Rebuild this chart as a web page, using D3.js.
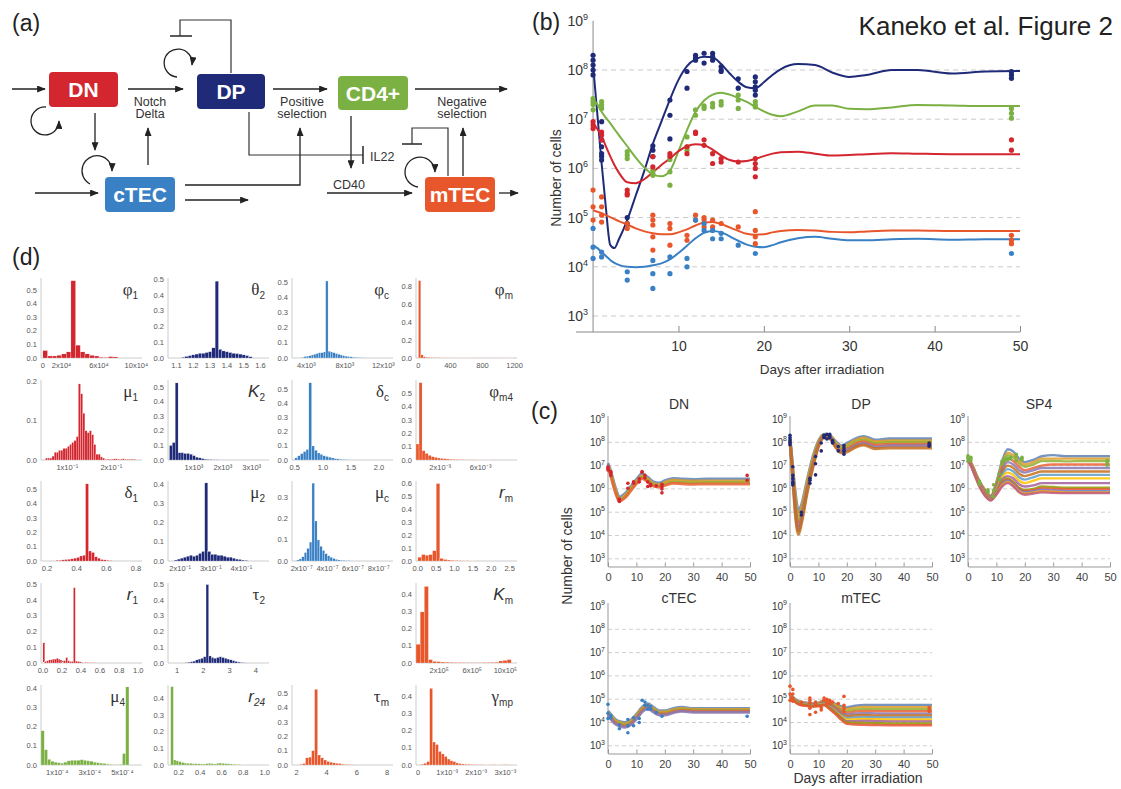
<!DOCTYPE html>
<html>
<head>
<meta charset="utf-8">
<script src="https://cdn.jsdelivr.net/npm/d3@7"></script>
<style>
  body { margin: 0; background: #fff; }
  svg { display: block; font-family: "Liberation Sans", Arial, sans-serif; }
</style>
</head>
<body>
<svg id="figura" width="1121" height="789"></svg>
<script>
// ---------- datos panel (b): curvas del modelo (log10 del número de células)
const diasB = [0, 0.5, 1, 1.5, 2, 2.5, 3, 4, 5, 6, 7, 8, 9, 10, 11, 12, 13, 14, 15, 16, 17, 18, 19, 20, 21, 22, 24, 26, 28, 30, 32, 35, 38, 42, 46, 50];
const curvaDP = [8.1, 7.1, 6.1, 5.2, 4.45, 4.38, 4.55, 4.95, 5.45, 5.95, 6.5, 6.95, 7.4, 7.8, 8.08, 8.22, 8.27, 8.26, 8.12, 7.93, 7.76, 7.65, 7.63, 7.75, 7.9, 8.02, 8.12, 8.1, 7.95, 7.86, 7.9, 8.0, 8.0, 7.93, 7.97, 7.98];
const curvaCD4 = [7.4, 7.3, 7.15, 7.03, 6.92, 6.8, 6.68, 6.45, 6.22, 6.02, 5.88, 5.84, 5.95, 6.35, 6.78, 7.15, 7.38, 7.5, 7.54, 7.5, 7.43, 7.35, 7.25, 7.16, 7.09, 7.06, 7.16, 7.28, 7.28, 7.21, 7.2, 7.24, 7.29, 7.28, 7.27, 7.27];
const curvaDN = [6.92, 6.8, 6.65, 6.45, 6.25, 6.07, 5.92, 5.72, 5.7, 5.78, 5.92, 6.07, 6.2, 6.35, 6.45, 6.49, 6.47, 6.38, 6.26, 6.17, 6.14, 6.15, 6.19, 6.25, 6.3, 6.33, 6.34, 6.3, 6.26, 6.27, 6.29, 6.31, 6.3, 6.29, 6.29, 6.29];
const curvaMTEC = [5.15, 5.12, 5.09, 5.05, 5.01, 4.97, 4.93, 4.86, 4.78, 4.72, 4.68, 4.66, 4.66, 4.7, 4.76, 4.84, 4.9, 4.91, 4.87, 4.8, 4.73, 4.67, 4.65, 4.66, 4.7, 4.73, 4.75, 4.74, 4.71, 4.7, 4.72, 4.74, 4.74, 4.73, 4.73, 4.73];
const curvaCTEC = [4.44, 4.38, 4.3, 4.22, 4.14, 4.08, 4.04, 4.0, 3.99, 4.0, 4.03, 4.07, 4.15, 4.28, 4.43, 4.58, 4.69, 4.73, 4.7, 4.62, 4.53, 4.45, 4.41, 4.4, 4.44, 4.5, 4.58, 4.61, 4.57, 4.54, 4.54, 4.56, 4.57, 4.55, 4.56, 4.56];

// mediciones [día, log10]
const puntosDP = [[0,8.3],[0,8.2],[0,8.1],[0,8.0],[0,7.9],[1,6.95],[1,6.58],[1,6.44],[1,6.3],[1,6.24],[1,6.17],[4,5.0],[4,4.88],[7,6.46],[7,6.37],[7,6.24],[9,7.39],[9,7.08],[9,6.6],[11,7.97],[11,7.63],[12,8.3],[12,8.24],[12,8.2],[13,8.34],[13,8.14],[14,8.34],[14,8.27],[14,8.2],[15,8.07],[15,8.0],[15,7.97],[17,7.82],[17,7.63],[19,7.86],[19,7.76],[19,7.66],[19,7.59],[19,7.49],[49,7.97],[49,7.9],[49,7.83]];
const puntosCD4 = [[0,7.42],[0,7.36],[0,7.3],[0,7.19],[1,7.36],[1,7.29],[1,7.22],[4,6.34],[4,6.27],[4,6.2],[7,5.96],[7,5.9],[7,5.86],[9,6.18],[9,5.93],[9,5.66],[11,6.64],[11,6.44],[11,6.37],[12,7.19],[12,7.08],[13,7.27],[13,7.22],[14,7.32],[14,7.25],[15,7.36],[15,7.29],[17,7.49],[17,7.39],[17,7.22],[19,7.36],[19,7.29],[19,7.25],[49,7.22],[49,7.12],[49,7.02]];
const puntosDN = [[0,6.95],[0,6.88],[0,6.81],[1,6.74],[1,6.68],[1,6.58],[4,5.56],[4,5.49],[4,5.46],[7,6.24],[7,6.03],[9,6.3],[9,6.24],[11,6.44],[11,6.3],[12,6.74],[12,6.71],[13,6.58],[13,6.47],[14,6.3],[14,6.1],[15,6.2],[15,6.13],[17,6.13],[19,6.2],[19,6.1],[19,6.0],[19,5.83],[49,6.58],[49,6.37]];
const puntosMTEC = [[0,5.56],[0,5.22],[0,4.95],[1,5.42],[1,5.22],[1,5.05],[1,4.91],[4,4.88],[4,4.78],[7,5.05],[7,4.95],[7,4.85],[7,4.61],[7,4.34],[9,4.88],[9,4.78],[9,4.44],[11,4.64],[11,4.54],[12,5.05],[12,4.95],[13,5.0],[13,4.95],[13,4.81],[14,4.95],[14,4.81],[15,4.88],[17,4.81],[19,5.12],[19,4.74],[19,4.61],[19,4.47],[49,4.64],[49,4.54],[49,4.47]];
const puntosCTEC = [[0,4.78],[0,4.4],[0,4.17],[1,4.3],[1,4.2],[4,3.9],[4,3.73],[7,4.13],[7,3.86],[7,3.56],[9,4.2],[9,3.86],[11,4.17],[11,4.0],[12,4.95],[13,4.88],[13,4.74],[14,4.74],[14,4.57],[15,4.68],[15,4.57],[17,4.44],[19,4.27],[49,4.27]];

// ---------- datos panel (c): trayectorias del ensamble
const diasC = [0, 1, 2, 3, 4, 6, 8, 10, 12, 14, 16, 18, 20, 23, 26, 30, 35, 40, 45, 50];
const corridasDN = [
  [7.1, 6.75, 6.3, 5.9, 5.65, 5.8, 6.1, 6.4, 6.65, 6.5, 6.3, 6.25, 6.35, 6.45, 6.42, 6.4, 6.42, 6.42, 6.42, 6.42],
  [7.0, 6.65, 6.2, 5.8, 5.55, 5.72, 6.02, 6.32, 6.55, 6.42, 6.22, 6.18, 6.28, 6.38, 6.35, 6.33, 6.34, 6.34, 6.34, 6.34],
  [6.95, 6.6, 6.15, 5.75, 5.5, 5.66, 5.97, 6.27, 6.5, 6.36, 6.17, 6.12, 6.2, 6.3, 6.28, 6.26, 6.27, 6.27, 6.27, 6.27],
  [6.9, 6.55, 6.1, 5.72, 5.48, 5.62, 5.92, 6.22, 6.45, 6.3, 6.12, 6.08, 6.15, 6.24, 6.22, 6.2, 6.21, 6.21, 6.21, 6.21]
];
const corridasDP = [
  [8.2, 6.9, 5.7, 5.05, 5.3, 6.35, 7.35, 8.05, 8.35, 8.3, 8.05, 7.85, 7.95, 8.15, 8.25, 8.1, 8.15, 8.15, 8.15, 8.15],
  [8.15, 6.8, 5.5, 4.85, 5.15, 6.25, 7.25, 8.0, 8.32, 8.28, 8.0, 7.8, 7.88, 8.08, 8.18, 8.03, 8.07, 8.07, 8.07, 8.07],
  [8.1, 6.7, 5.3, 4.6, 4.95, 6.1, 7.15, 7.95, 8.3, 8.25, 7.95, 7.72, 7.8, 8.0, 8.1, 7.95, 8.0, 8.0, 8.0, 8.0],
  [8.1, 6.6, 5.1, 4.4, 4.8, 6.0, 7.05, 7.9, 8.28, 8.22, 7.9, 7.66, 7.72, 7.92, 8.02, 7.88, 7.92, 7.92, 7.92, 7.92],
  [8.05, 6.5, 4.9, 4.2, 4.65, 5.9, 6.95, 7.85, 8.25, 8.2, 7.85, 7.6, 7.65, 7.85, 7.95, 7.8, 7.85, 7.85, 7.85, 7.85],
  [8.05, 6.4, 4.75, 4.05, 4.5, 5.8, 6.9, 7.8, 8.22, 8.15, 7.8, 7.55, 7.58, 7.78, 7.88, 7.72, 7.76, 7.76, 7.76, 7.76]
];
const corridasSP4 = [
  [7.35, 7.15, 6.9, 6.6, 6.35, 5.95, 5.7, 6.3, 7.2, 7.7, 7.6, 7.3, 7.15, 7.25, 7.4, 7.45, 7.4, 7.4, 7.4, 7.4],
  [7.35, 7.15, 6.9, 6.6, 6.35, 5.95, 5.7, 6.25, 7.1, 7.55, 7.45, 7.2, 7.05, 7.15, 7.3, 7.3, 7.3, 7.3, 7.3, 7.3],
  [7.3, 7.1, 6.85, 6.55, 6.3, 5.9, 5.68, 6.2, 7.0, 7.45, 7.35, 7.1, 6.95, 7.05, 7.2, 7.2, 7.18, 7.2, 7.2, 7.2],
  [7.3, 7.1, 6.85, 6.55, 6.3, 5.9, 5.65, 6.15, 6.9, 7.3, 7.2, 6.95, 6.8, 6.9, 7.0, 7.05, 7.05, 7.05, 7.05, 7.05],
  [7.3, 7.1, 6.85, 6.55, 6.28, 5.88, 5.65, 6.1, 6.8, 7.15, 7.05, 6.8, 6.7, 6.8, 6.9, 6.9, 6.9, 6.9, 6.9, 6.9],
  [7.3, 7.1, 6.82, 6.52, 6.25, 5.85, 5.62, 6.05, 6.7, 7.0, 6.9, 6.65, 6.55, 6.65, 6.75, 6.75, 6.75, 6.75, 6.75, 6.75],
  [7.28, 7.08, 6.8, 6.5, 6.25, 5.85, 5.62, 6.0, 6.6, 6.85, 6.75, 6.5, 6.4, 6.5, 6.6, 6.6, 6.6, 6.6, 6.6, 6.6],
  [7.28, 7.08, 6.8, 6.5, 6.22, 5.82, 5.6, 5.95, 6.5, 6.7, 6.6, 6.35, 6.25, 6.35, 6.45, 6.45, 6.45, 6.45, 6.45, 6.45],
  [7.25, 7.05, 6.78, 6.48, 6.2, 5.8, 5.58, 5.9, 6.4, 6.55, 6.45, 6.2, 6.1, 6.15, 6.25, 6.25, 6.25, 6.25, 6.25, 6.25],
  [7.25, 7.05, 6.78, 6.48, 6.2, 5.8, 5.58, 5.85, 6.3, 6.45, 6.3, 6.05, 5.95, 6.0, 6.1, 6.08, 6.05, 6.05, 6.05, 6.05],
  [7.25, 7.05, 6.75, 6.45, 6.18, 5.78, 5.55, 5.82, 6.25, 6.4, 6.25, 6.0, 5.9, 5.95, 6.02, 6.0, 5.98, 5.98, 5.98, 5.98],
  [7.22, 7.02, 6.72, 6.42, 6.15, 5.75, 5.55, 5.8, 6.2, 6.35, 6.2, 5.95, 5.85, 5.9, 5.96, 5.93, 5.9, 5.9, 5.9, 5.9],
  [7.22, 7.0, 6.7, 6.4, 6.12, 5.72, 5.52, 5.78, 6.15, 6.3, 6.15, 5.9, 5.8, 5.85, 5.9, 5.88, 5.85, 5.85, 5.85, 5.85],
  [7.2, 7.0, 6.7, 6.4, 6.1, 5.7, 5.5, 5.75, 6.1, 6.25, 6.1, 5.85, 5.75, 5.8, 5.85, 5.83, 5.82, 5.82, 5.82, 5.82]
];
const corridasCTEC = [
  [4.5, 4.35, 4.2, 4.1, 4.05, 4.0, 4.1, 4.35, 4.65, 4.8, 4.65, 4.5, 4.5, 4.6, 4.65, 4.6, 4.6, 4.6, 4.6, 4.6],
  [4.45, 4.3, 4.15, 4.05, 4.0, 3.95, 4.05, 4.3, 4.6, 4.75, 4.6, 4.45, 4.45, 4.55, 4.6, 4.56, 4.56, 4.56, 4.56, 4.56],
  [4.4, 4.25, 4.1, 4.0, 3.95, 3.9, 4.0, 4.25, 4.55, 4.7, 4.55, 4.4, 4.4, 4.5, 4.56, 4.52, 4.52, 4.52, 4.52, 4.52],
  [4.35, 4.2, 4.05, 3.95, 3.9, 3.85, 3.95, 4.2, 4.5, 4.65, 4.5, 4.36, 4.36, 4.46, 4.52, 4.48, 4.48, 4.48, 4.48, 4.48],
  [4.3, 4.15, 4.0, 3.9, 3.85, 3.8, 3.9, 4.15, 4.45, 4.6, 4.45, 4.32, 4.32, 4.42, 4.48, 4.44, 4.44, 4.44, 4.44, 4.44]
];
const corridasMTEC = [
  [5.25, 5.1, 5.0, 4.92, 4.88, 4.85, 4.82, 4.85, 4.95, 4.9, 4.8, 4.7, 4.65, 4.72, 4.75, 4.75, 4.75, 4.75, 4.75, 4.75],
  [5.22, 5.08, 4.98, 4.9, 4.86, 4.83, 4.8, 4.83, 4.92, 4.87, 4.75, 4.63, 4.58, 4.64, 4.67, 4.66, 4.66, 4.66, 4.66, 4.66],
  [5.2, 5.06, 4.96, 4.88, 4.84, 4.81, 4.78, 4.81, 4.9, 4.84, 4.7, 4.56, 4.5, 4.55, 4.58, 4.57, 4.57, 4.57, 4.57, 4.57],
  [5.2, 5.05, 4.95, 4.87, 4.83, 4.8, 4.77, 4.8, 4.88, 4.8, 4.65, 4.5, 4.42, 4.47, 4.5, 4.49, 4.48, 4.48, 4.48, 4.48],
  [5.18, 5.04, 4.94, 4.86, 4.82, 4.79, 4.76, 4.79, 4.86, 4.77, 4.6, 4.44, 4.35, 4.38, 4.4, 4.39, 4.38, 4.38, 4.38, 4.38],
  [5.18, 5.03, 4.93, 4.85, 4.81, 4.78, 4.75, 4.78, 4.84, 4.74, 4.56, 4.38, 4.28, 4.3, 4.32, 4.3, 4.3, 4.3, 4.3, 4.3],
  [5.16, 5.02, 4.92, 4.84, 4.8, 4.77, 4.74, 4.77, 4.82, 4.7, 4.52, 4.32, 4.2, 4.22, 4.23, 4.22, 4.22, 4.22, 4.22, 4.22],
  [5.15, 5.0, 4.9, 4.82, 4.78, 4.75, 4.72, 4.75, 4.8, 4.67, 4.48, 4.27, 4.13, 4.14, 4.15, 4.14, 4.13, 4.13, 4.13, 4.13],
  [5.14, 4.99, 4.89, 4.81, 4.77, 4.74, 4.71, 4.74, 4.78, 4.64, 4.44, 4.22, 4.06, 4.06, 4.07, 4.06, 4.05, 4.05, 4.05, 4.05],
  [5.12, 4.98, 4.88, 4.8, 4.76, 4.73, 4.7, 4.72, 4.76, 4.6, 4.4, 4.17, 4.0, 3.98, 3.98, 3.97, 3.96, 3.96, 3.96, 3.96],
  [5.1, 4.96, 4.86, 4.78, 4.74, 4.71, 4.68, 4.7, 4.74, 4.57, 4.36, 4.12, 3.94, 3.91, 3.9, 3.89, 3.88, 3.88, 3.88, 3.88]
];

// ---------- datos panel (d): histogramas (frecuencia por clase)
const hPhi1 = [0.055, 0.015, 0.015, 0.02, 0.03, 0.045, 0.57, 0.095, 0.045, 0.03, 0.02, 0.015, 0.006, 0.004, 0.01, 0.008];
const hTheta2 = [0.005, 0.01, 0.015, 0.02, 0.025, 0.03, 0.03, 0.035, 0.04, 0.065, 0.49, 0.055, 0.045, 0.04, 0.035, 0.03, 0.028, 0.025, 0.02, 0.015, 0.008];
const hPhiC = [0.005, 0.01, 0.012, 0.015, 0.02, 0.025, 0.03, 0.035, 0.035, 0.04, 0.51, 0.045, 0.04, 0.035, 0.03, 0.025, 0.02, 0.015, 0.012, 0.01, 0.008, 0.006, 0.005, 0.004, 0.003, 0.002];
const hPhiM = [0.87, 0.035, 0.015, 0.01, 0.008, 0.006, 0.005, 0.004, 0.004, 0.003, 0.003, 0.003, 0.002, 0.002, 0.002, 0.002, 0.002, 0.002, 0.002, 0.002, 0.002, 0.002, 0.001, 0.001, 0.001, 0.001, 0.001, 0.001, 0.001, 0.001, 0.001, 0.001, 0.001, 0.001, 0.001, 0.001, 0.001, 0.001, 0.002, 0.003];
const hMu1 = [0.005, 0.005, 0.005, 0.01, 0.02, 0.02, 0.025, 0.025, 0.03, 0.03, 0.035, 0.04, 0.045, 0.05, 0.06, 0.195, 0.17, 0.12, 0.075, 0.07, 0.075, 0.065, 0.04, 0.015, 0.015, 0.008, 0.005, 0.002, 0.002, 0.002, 0.002, 0.003, 0.003, 0.002, 0.002, 0.003, 0.002, 0.002, 0.002, 0.002, 0.002];
const hK2 = [0.1, 0.12, 0.53, 0.05, 0.05, 0.045, 0.045, 0.04, 0.03, 0.02, 0.015, 0.01, 0.006, 0.004, 0.003, 0.002, 0.002, 0.001, 0.001, 0.001];
const hDeltaC = [0.015, 0.03, 0.045, 0.06, 0.075, 0.55, 0.1, 0.07, 0.05, 0.04, 0.03, 0.025, 0.02, 0.015, 0.01, 0.008, 0.005, 0.004, 0.003, 0.002];
const hPhiM4 = [0.12, 0.58, 0.07, 0.05, 0.035, 0.025, 0.02, 0.015, 0.012, 0.01, 0.008, 0.006, 0.005, 0.004, 0.003, 0.003, 0.002, 0.002, 0.002, 0.002, 0.001, 0.001, 0.001, 0.001, 0.001];
const hDelta1 = [0.005, 0.005, 0.008, 0.01, 0.012, 0.015, 0.02, 0.025, 0.035, 0.04, 0.54, 0.07, 0.06, 0.03, 0.02, 0.01, 0.008, 0.005, 0.003];
const hMu2 = [0.005, 0.01, 0.015, 0.02, 0.025, 0.03, 0.025, 0.03, 0.04, 0.05, 0.41, 0.05, 0.035, 0.035, 0.03, 0.03, 0.025, 0.02, 0.02, 0.015, 0.01, 0.008, 0.005, 0.003];
const hMuC = [0.005, 0.01, 0.02, 0.04, 0.06, 0.09, 0.37, 0.19, 0.1, 0.07, 0.05, 0.035, 0.025, 0.018, 0.012, 0.008, 0.005, 0.004, 0.003, 0.002, 0.002, 0.001];
const hRm = [0.03, 0.05, 0.045, 0.05, 0.08, 0.6, 0.02, 0.012, 0.008, 0.005, 0.004, 0.003, 0.002, 0.002, 0.001, 0.001];
const hR1 = [0.13, 0.01, 0.015, 0.02, 0.02, 0.025, 0.025, 0.03, 0.025, 0.02, 0.015, 0.015, 0.035, 0.015, 0.01, 0.01, 0.48, 0.012, 0.01, 0.008, 0.006, 0.005, 0.004, 0.003, 0.003, 0.002, 0.002, 0.002, 0.001, 0.001];
const hTau2 = [0.003, 0.005, 0.008, 0.012, 0.02, 0.025, 0.03, 0.04, 0.5, 0.045, 0.035, 0.03, 0.035, 0.04, 0.035, 0.03, 0.025, 0.02, 0.015, 0.01, 0.006, 0.004, 0.002];
const hKm = [0.11, 0.3, 0.45, 0.02, 0.01, 0.008, 0.006, 0.005, 0.004, 0.003, 0.003, 0.003, 0.002, 0.002, 0.002, 0.002, 0.003, 0.003, 0.004, 0.005, 0.012, 0.015, 0.02];
const hMu4 = [0.18, 0.08, 0.03, 0.02, 0.015, 0.012, 0.01, 0.015, 0.022, 0.025, 0.025, 0.025, 0.028, 0.025, 0.022, 0.02, 0.015, 0.012, 0.01, 0.008, 0.005, 0.003, 0.002, 0.002, 0.003, 0.06, 0.41];
const hR24 = [0.47, 0.03, 0.025, 0.02, 0.015, 0.012, 0.01, 0.01, 0.008, 0.008, 0.007, 0.006, 0.006, 0.008, 0.01, 0.008, 0.006, 0.01, 0.012, 0.01, 0.008, 0.008, 0.006, 0.005, 0.004, 0.003, 0.002, 0.001];
const hTauM = [0.005, 0.01, 0.05, 0.055, 0.1, 0.53, 0.07, 0.05, 0.035, 0.025, 0.02, 0.015, 0.012, 0.01, 0.006, 0.004, 0.003, 0.002];
const hGammaMP = [0.005, 0.01, 0.02, 0.45, 0.135, 0.12, 0.08, 0.065, 0.05, 0.035, 0.025, 0.02, 0.012, 0.008, 0.006, 0.005, 0.004, 0.003, 0.002, 0.002, 0.002, 0.002, 0.001, 0.001, 0.002, 0.002, 0.001, 0.001, 0.002, 0.002];

const exponentes = [3, 4, 5, 6, 7, 8, 9];
const ticksDias = [10, 20, 30, 40, 50];

// ---------- estilos
const COL = { dn: "#d3262e", dp: "#1f2a78", cd4: "#7bb143", ctec: "#3a80c4", mtec: "#e8562b" };
const PALETA = ["#5e81b5", "#e19c24", "#8fb032", "#eb6235", "#8778b3", "#c56e1a", "#5d9ec7", "#ffbf00", "#a5609d", "#929600", "#e95536", "#6685d9", "#f89f13", "#bc5b80"];
const TXT = "#333";

const svg = d3.select("#figura");
const defs = svg.append("defs");
defs.append("marker")
  .attr("id", "flecha")
  .attr("viewBox", "0 0 10 8")
  .attr("refX", 9).attr("refY", 4)
  .attr("markerWidth", 9).attr("markerHeight", 7)
  .attr("markerUnits", "userSpaceOnUse")
  .attr("orient", "auto")
  .append("path").attr("d", "M0,0 L10,4 L0,8 Z").attr("fill", "#222");

function etiquetaPanel(x, y, t) {
  svg.append("text").attr("x", x).attr("y", y).attr("font-size", 23).attr("fill", "#222").text(t);
}

function potencia(g, x, y, exp, base, sup) {
  const t = g.append("text").attr("x", x).attr("y", y).attr("text-anchor", "end")
    .attr("font-size", base).attr("fill", TXT);
  t.append("tspan").text("10");
  t.append("tspan").attr("font-size", sup).attr("dy", -base * 0.45).text(exp);
}

// =====================================================================
// (a) diagrama
// =====================================================================
etiquetaPanel(12, 31, "(a)");
const gA = svg.append("g");

const cajas = [
  { t: "DN", x: 49, y: 72, w: 69, h: 35, c: COL.dn },
  { t: "DP", x: 197, y: 74, w: 68, h: 35, c: COL.dp },
  { t: "CD4+", x: 338, y: 76, w: 70, h: 34, c: COL.cd4 },
  { t: "cTEC", x: 105, y: 177, w: 70, h: 35, c: COL.ctec },
  { t: "mTEC", x: 425, y: 177, w: 70, h: 35, c: COL.mtec }
];

const flechas = [
  [[12, 89], [45, 89]],
  [[128, 89], [183, 89]],
  [[95, 113], [95, 150]],
  [[148, 165], [148, 128]],
  [[35, 193], [98, 193]],
  [[185, 185], [300, 185], [300, 128]],
  [[185, 200], [248, 200]],
  [[273, 89], [327, 89]],
  [[351, 116], [351, 168]],
  [[327, 193], [412, 193]],
  [[463, 176], [463, 128]],
  [[415, 89], [507, 89]],
  [[499, 193], [518, 193]]
];
const inhibiciones = [
  { p: [[231, 73], [231, 20], [180, 20], [180, 36]], barra: [[170, 36], [192, 36]] },
  { p: [[249, 112], [249, 155], [363, 155]], barra: [[363, 146], [363, 164]] },
  { p: [[448, 176], [448, 128], [412, 128], [412, 144]], barra: [[402, 144], [422, 144]] }
];
const lazos = [
  "M46,107 A14,14 0 1,0 59,121",
  "M90,184 A15,15 0 1,1 112,171",
  "M177,77 A14,14 0 1,1 192,65",
  "M418,187 A15,15 0 1,1 435,172"
];

const linea = d3.line();
gA.selectAll("path.flecha").data(flechas).join("path")
  .attr("class", "flecha")
  .attr("d", d => linea(d))
  .attr("fill", "none").attr("stroke", "#222").attr("stroke-width", 1.3)
  .attr("marker-end", "url(#flecha)");

inhibiciones.forEach(d => {
  gA.append("path").attr("d", linea(d.p)).attr("fill", "none").attr("stroke", "#333").attr("stroke-width", 1.2);
  gA.append("path").attr("d", linea(d.barra)).attr("fill", "none").attr("stroke", "#333").attr("stroke-width", 1.6);
});

gA.selectAll("path.lazo").data(lazos).join("path")
  .attr("class", "lazo")
  .attr("d", d => d)
  .attr("fill", "none").attr("stroke", "#222").attr("stroke-width", 1.3)
  .attr("marker-end", "url(#flecha)");

const gCajas = gA.selectAll("g.caja").data(cajas).join("g").attr("class", "caja");
gCajas.append("rect")
  .attr("x", d => d.x).attr("y", d => d.y).attr("width", d => d.w).attr("height", d => d.h)
  .attr("rx", 4).attr("fill", d => d.c);
gCajas.append("text")
  .attr("x", d => d.x + d.w / 2).attr("y", d => d.y + d.h / 2 + 7.5)
  .attr("text-anchor", "middle").attr("font-size", 21).attr("font-weight", 700)
  .attr("fill", "#fff").text(d => d.t);

const rotulos = [
  { x: 150, y: 106, t: "Notch" }, { x: 150, y: 118, t: "Delta" },
  { x: 302, y: 106, t: "Positive" }, { x: 302, y: 118, t: "selection" },
  { x: 462, y: 106, t: "Negative" }, { x: 462, y: 118, t: "selection" }
];
gA.selectAll("text.rotulo").data(rotulos).join("text")
  .attr("class", "rotulo")
  .attr("x", d => d.x).attr("y", d => d.y).attr("text-anchor", "middle")
  .attr("font-size", 12.5).attr("fill", TXT).text(d => d.t);
gA.append("text").attr("x", 370).attr("y", 161).attr("font-size", 12.5).attr("fill", TXT).text("IL22");
gA.append("text").attr("x", 333).attr("y", 189).attr("font-size", 12.5).attr("fill", TXT).text("CD40");

// =====================================================================
// (b) dinámica principal
// =====================================================================
etiquetaPanel(532, 30, "(b)");
svg.append("text").attr("x", 1113).attr("y", 35).attr("text-anchor", "end")
  .attr("font-size", 26).attr("fill", "#222").text("Kaneko et al. Figure 2");

const gB = svg.append("g");
const xB = d3.scaleLinear().domain([-2, 50]).range([576, 1020]);
const yB = d3.scaleLinear().domain([2.675, 9]).range([332, 20.8]);

gB.selectAll("line.rejilla").data(exponentes.filter(e => e < 9)).join("line")
  .attr("class", "rejilla")
  .attr("x1", xB(0)).attr("x2", xB(50))
  .attr("y1", d => yB(d)).attr("y2", d => yB(d))
  .attr("stroke", "#c9c9c9").attr("stroke-dasharray", "5,4").attr("stroke-width", 1);

gB.append("line").attr("x1", xB(0)).attr("x2", xB(0)).attr("y1", yB(9)).attr("y2", yB.range()[0])
  .attr("stroke", "#888").attr("stroke-width", 1);

exponentes.forEach(e => potencia(gB, xB(0) - 5, yB(e) + 5, e, 14, 9));

const ejeXB = gB.append("g").attr("transform", `translate(0,${yB.range()[0]})`);
ejeXB.call(d3.axisBottom(xB).tickValues(d3.range(0, 51, 2)).tickSize(-3).tickFormat(""));
ejeXB.call(d3.axisBottom(xB).tickValues(ticksDias).tickSize(-6).tickPadding(9).tickFormat(d3.format("d")));
ejeXB.select(".domain").remove();
ejeXB.selectAll(".tick line").attr("stroke", "#888");
ejeXB.selectAll("text").attr("font-size", 14).attr("fill", TXT).attr("font-family", "Liberation Sans, Arial, sans-serif");
gB.append("line").attr("x1", xB(-2)).attr("x2", xB(50)).attr("y1", yB.range()[0]).attr("y2", yB.range()[0])
  .attr("stroke", "#888").attr("stroke-width", 1);

gB.append("text").attr("x", 822).attr("y", 374).attr("text-anchor", "middle")
  .attr("font-size", 13.5).attr("fill", TXT).text("Days after irradiation");
gB.append("text").attr("transform", "translate(561,178) rotate(-90)").attr("text-anchor", "middle")
  .attr("font-size", 14).attr("fill", TXT).text("Number of cells");

const seriesB = [
  { c: COL.dp, v: curvaDP, p: puntosDP },
  { c: COL.cd4, v: curvaCD4, p: puntosCD4 },
  { c: COL.dn, v: curvaDN, p: puntosDN },
  { c: COL.mtec, v: curvaMTEC, p: puntosMTEC },
  { c: COL.ctec, v: curvaCTEC, p: puntosCTEC }
];
const lineaB = d3.line().x(d => xB(d[0])).y(d => yB(d[1])).curve(d3.curveMonotoneX);
seriesB.forEach(s => {
  gB.append("path").datum(diasB.map((d, i) => [d, s.v[i]]))
    .attr("d", lineaB).attr("fill", "none").attr("stroke", s.c).attr("stroke-width", 2);
});
seriesB.forEach(s => {
  gB.append("g").selectAll("circle").data(s.p).join("circle")
    .attr("cx", d => xB(d[0])).attr("cy", d => yB(d[1])).attr("r", 2.6).attr("fill", s.c);
});

// =====================================================================
// (c) ensamble
// =====================================================================
etiquetaPanel(531, 419, "(c)");

const pequenos = [
  { t: "DN", x0: 608, arriba: 419, corr: corridasDN, p: puntosDN, c: COL.dn, ty: 409, grosor: 3 },
  { t: "DP", x0: 790, arriba: 419, corr: corridasDP, p: puntosDP, c: COL.dp, ty: 409, grosor: 3 },
  { t: "SP4", x0: 968, arriba: 419, corr: corridasSP4, p: puntosCD4, c: COL.cd4, ty: 409, grosor: 2.4 },
  { t: "cTEC", x0: 608, arriba: 606, corr: corridasCTEC, p: puntosCTEC, c: COL.ctec, ty: 603, grosor: 3 },
  { t: "mTEC", x0: 790, arriba: 606, corr: corridasMTEC, p: puntosMTEC, c: COL.mtec, ty: 603, grosor: 2.4 }
];

pequenos.forEach(cfg => {
  const g = svg.append("g");
  const dec = 23.3;
  const base = cfg.arriba + 6 * dec + 0.33 * dec;
  const x = d3.scaleLinear().domain([0, 50]).range([cfg.x0, cfg.x0 + 142]);
  const y = d3.scaleLinear().domain([9, 3]).range([cfg.arriba, cfg.arriba + 6 * dec]);

  g.selectAll("line.rejilla").data(exponentes.filter(e => e < 9)).join("line")
    .attr("x1", x(0)).attr("x2", x(50)).attr("y1", d => y(d)).attr("y2", d => y(d))
    .attr("stroke", "#cfcfcf").attr("stroke-dasharray", "4,3");
  g.append("line").attr("x1", x(0)).attr("x2", x(0)).attr("y1", cfg.arriba - 3).attr("y2", base)
    .attr("stroke", "#999");
  exponentes.forEach(e => potencia(g, x(0) - 3, y(e) + 3.5, e, 10, 7));

  const eje = g.append("g").attr("transform", `translate(0,${base})`);
  eje.call(d3.axisBottom(x).tickValues(d3.range(0, 51, 2)).tickSize(-2).tickFormat(""));
  eje.call(d3.axisBottom(x).tickValues([0, 10, 20, 30, 40, 50]).tickSize(-4).tickPadding(7).tickFormat(d3.format("d")));
  eje.selectAll(".domain, .tick line").attr("stroke", "#999");
  eje.selectAll("text").attr("font-size", 11).attr("fill", "#444").attr("font-family", "Liberation Sans, Arial, sans-serif");

  const ln = d3.line().x(d => x(d[0])).y(d => y(d[1])).curve(d3.curveMonotoneX);
  g.selectAll("path.corrida").data(cfg.corr).join("path")
    .attr("class", "corrida")
    .attr("d", r => ln(diasC.map((d, i) => [d, r[i]])))
    .attr("fill", "none").attr("stroke", (r, i) => PALETA[i % PALETA.length])
    .attr("stroke-width", cfg.grosor).attr("opacity", 0.85);
  g.selectAll("circle").data(cfg.p).join("circle")
    .attr("cx", d => x(d[0])).attr("cy", d => y(d[1])).attr("r", 1.8).attr("fill", cfg.c);

  g.append("text").attr("x", x(25)).attr("y", cfg.ty).attr("text-anchor", "middle")
    .attr("font-size", 14).attr("fill", TXT).text(cfg.t);
});

svg.append("text").attr("transform", "translate(572,556) rotate(-90)").attr("text-anchor", "middle")
  .attr("font-size", 14).attr("fill", TXT).text("Number of cells");
svg.append("text").attr("x", 858).attr("y", 783).attr("text-anchor", "middle")
  .attr("font-size", 14).attr("fill", TXT).text("Days after irradiation");

// =====================================================================
// (d) histogramas
// =====================================================================
etiquetaPanel(12, 265, "(d)");

const colX = [41, 168, 292, 416];
const filaY = [358, 460, 561, 663, 765];
const rango01 = d3.range(0, 0.51, 0.1);

const histos = [
  { col: 0, fila: 0, v: hPhi1, ini: 0, an: 0.5, dom: [-0.2, 10.6], ymax: 0.59, c: COL.dn, yt: rango01,
    xt: [[0, "0"], [2, "2x10⁴"], [6, "6x10⁴"], [10, "10x10⁴"]], g: "φ", s: "1" },
  { col: 1, fila: 0, v: hTheta2, ini: 1.13, an: 0.02, dom: [1.05, 1.65], ymax: 0.51, c: COL.dp, yt: rango01,
    xt: [[1.1, "1.1"], [1.2, "1.2"], [1.3, "1.3"], [1.4, "1.4"], [1.5, "1.5"], [1.6, "1.6"]], g: "θ", s: "2" },
  { col: 2, fila: 0, v: hPhiC, ini: 3.5, an: 0.25, dom: [2.5, 13], ymax: 0.53, c: COL.ctec, yt: rango01,
    xt: [[4, "4x10³"], [8, "8x10³"], [12, "12x10³"]], g: "φ", s: "c" },
  { col: 3, fila: 0, v: hPhiM, ini: 0, an: 30, dom: [-30, 1230], ymax: 0.9, c: COL.mtec, yt: [0, 0.2, 0.4, 0.6, 0.8],
    xt: [[0, "0"], [400, "400"], [800, "800"], [1200, "1200"]], g: "φ", s: "m" },

  { col: 0, fila: 1, v: hMu1, ini: 0.5, an: 0.05, dom: [0.4, 2.7], ymax: 0.205, c: COL.dn, yt: [0, 0.1, 0.2],
    xt: [[1, "1x10⁻¹"], [2, "2x10⁻¹"]], g: "μ", s: "1" },
  { col: 1, fila: 1, v: hK2, ini: 0.15, an: 0.1, dom: [0.1, 3.6], ymax: 0.55, c: COL.dp, yt: rango01,
    xt: [[1, "1x10³"], [2, "2x10³"], [3, "3x10³"]], g: "K", s: "2", it: true },
  { col: 2, fila: 1, v: hDeltaC, ini: 0.5, an: 0.05, dom: [0.45, 2.25], ymax: 0.57, c: COL.ctec, yt: rango01,
    xt: [[0.5, "0.5"], [1, "1.0"], [1.5, "1.5"], [2, "2.0"]], g: "δ", s: "c" },
  { col: 3, fila: 1, v: hPhiM4, ini: -0.4, an: 0.3, dom: [-0.4, 9.6], ymax: 0.6, c: COL.mtec, yt: rango01,
    xt: [[2, "2x10⁻³"], [6, "6x10⁻³"]], g: "φ", s: "m4" },

  { col: 0, fila: 2, v: hDelta1, ini: 0.26, an: 0.02, dom: [0.16, 0.84], ymax: 0.56, c: COL.dn, yt: rango01,
    xt: [[0.2, "0.2"], [0.4, "0.4"], [0.6, "0.6"], [0.8, "0.8"]], g: "δ", s: "1" },
  { col: 1, fila: 2, v: hMu2, ini: 1.8, an: 0.1, dom: [1.6, 4.9], ymax: 0.42, c: COL.dp, yt: [0, 0.1, 0.2, 0.3, 0.4],
    xt: [[2, "2x10⁻¹"], [3, "3x10⁻¹"], [4, "4x10⁻¹"]], g: "μ", s: "2" },
  { col: 2, fila: 2, v: hMuC, ini: 1.6, an: 0.2, dom: [1.25, 9.1], ymax: 0.38, c: COL.ctec, yt: [0, 0.1, 0.2, 0.3],
    xt: [[2, "2x10⁻⁷"], [4, "4x10⁻⁷"], [6, "6x10⁻⁷"], [8, "8x10⁻⁷"]], g: "μ", s: "c" },
  { col: 3, fila: 2, v: hRm, ini: 0, an: 0.1, dom: [-0.05, 2.7], ymax: 0.62, c: COL.mtec, yt: [0, 0.1, 0.2, 0.3, 0.4, 0.5, 0.6],
    xt: [[0, "0.0"], [0.5, "0.5"], [1, "1.0"], [1.5, "1.5"], [2, "2.0"], [2.5, "2.5"]], g: "r", s: "m", it: true },

  { col: 0, fila: 3, v: hR1, ini: 0, an: 0.02, dom: [-0.02, 1.04], ymax: 0.51, c: COL.dn, yt: rango01,
    xt: [[0, "0.0"], [0.2, "0.2"], [0.4, "0.4"], [0.6, "0.6"], [0.8, "0.8"], [1, "1.0"]], g: "r", s: "1", it: true },
  { col: 1, fila: 3, v: hTau2, ini: 1.3, an: 0.1, dom: [0.65, 4.5], ymax: 0.51, c: COL.dp, yt: rango01,
    xt: [[1, "1"], [2, "2"], [3, "3"], [4, "4"]], g: "τ", s: "2" },
  { col: 3, fila: 3, v: hKm, ini: -0.8, an: 0.5, dom: [-0.8, 11.4], ymax: 0.47, c: COL.mtec, yt: [0, 0.1, 0.2, 0.3, 0.4],
    xt: [[2, "2x10⁵"], [6, "6x10⁵"], [10, "10x10⁵"]], g: "K", s: "m", it: true },

  { col: 0, fila: 4, v: hMu4, ini: 0, an: 0.2, dom: [0, 6.2], ymax: 0.42, c: COL.cd4, yt: [0, 0.1, 0.2, 0.3, 0.4],
    xt: [[1, "1x10⁻⁴"], [3, "3x10⁻⁴"], [5, "5x10⁻⁴"]], g: "μ", s: "4", tx: 84 },
  { col: 1, fila: 4, v: hR24, ini: 0.125, an: 0.025, dom: [0.1, 1.04], ymax: 0.48, c: COL.cd4, yt: [0, 0.1, 0.2, 0.3, 0.4],
    xt: [[0.2, "0.2"], [0.4, "0.4"], [0.6, "0.6"], [0.8, "0.8"], [1, "1.0"]], g: "r", s: "24", it: true },
  { col: 2, fila: 4, v: hTauM, ini: 2.2, an: 0.2, dom: [1.7, 8.4], ymax: 0.56, c: COL.mtec, yt: rango01,
    xt: [[2, "2"], [4, "4"], [6, "6"], [8, "8"]], g: "τ", s: "m" },
  { col: 3, fila: 4, v: hGammaMP, ini: 0.1, an: 0.1, dom: [-0.07, 3.4], ymax: 0.47, c: COL.mtec, yt: [0, 0.1, 0.2, 0.3, 0.4],
    xt: [[0, "0"], [1, "1x10⁻³"], [2, "2x10⁻³"], [3, "3x10⁻³"]], g: "γ", s: "mp" }
];

histos.forEach(h => {
  const x0 = colX[h.col], base = filaY[h.fila];
  const x = d3.scaleLinear().domain(h.dom).range([x0, x0 + 101]);
  const y = d3.scaleLinear().domain([0, h.ymax]).range([base, base - 80]);
  const g = svg.append("g");

  g.append("line").attr("x1", x0).attr("x2", x0).attr("y1", base).attr("y2", base - 80).attr("stroke", "#ccc");
  g.append("line").attr("x1", x0).attr("x2", x0 + 101).attr("y1", base).attr("y2", base).attr("stroke", "#ccc");

  g.selectAll("rect").data(h.v).join("rect")
    .attr("x", (d, i) => x(h.ini + i * h.an))
    .attr("width", (d, i) => Math.max(0.6, x(h.ini + (i + 1) * h.an) - x(h.ini + i * h.an)))
    .attr("y", d => y(d)).attr("height", d => base - y(d))
    .attr("fill", h.c).attr("stroke", "#fff").attr("stroke-width", 0.25);

  g.selectAll("text.yt").data(h.yt).join("text")
    .attr("class", "yt")
    .attr("x", x0 - 4).attr("y", d => y(d) + 2.5).attr("text-anchor", "end")
    .attr("font-size", 7.5).attr("fill", "#555").text(d => d.toFixed(1));
  g.selectAll("text.xt").data(h.xt).join("text")
    .attr("class", "xt")
    .attr("x", d => x(d[0])).attr("y", base + 9.5).attr("text-anchor", "middle")
    .attr("font-size", 7.5).attr("fill", "#555").text(d => d[1]);

  const t = g.append("text").attr("x", x0 + (h.tx || 97)).attr("y", base - 63).attr("text-anchor", "end")
    .attr("font-family", "Liberation Serif, Times New Roman, serif").attr("fill", "#333");
  t.append("tspan").attr("font-size", 17).attr("font-style", h.it ? "italic" : "normal")
    .attr("font-family", h.it ? "Liberation Sans, Arial, sans-serif" : null).text(h.g);
  t.append("tspan").attr("font-size", 10).attr("dy", 4)
    .attr("font-style", h.it && h.s === "24" ? "italic" : "normal")
    .attr("font-family", "Liberation Sans, Arial, sans-serif").text(h.s);
});
</script>
</body>
</html>
